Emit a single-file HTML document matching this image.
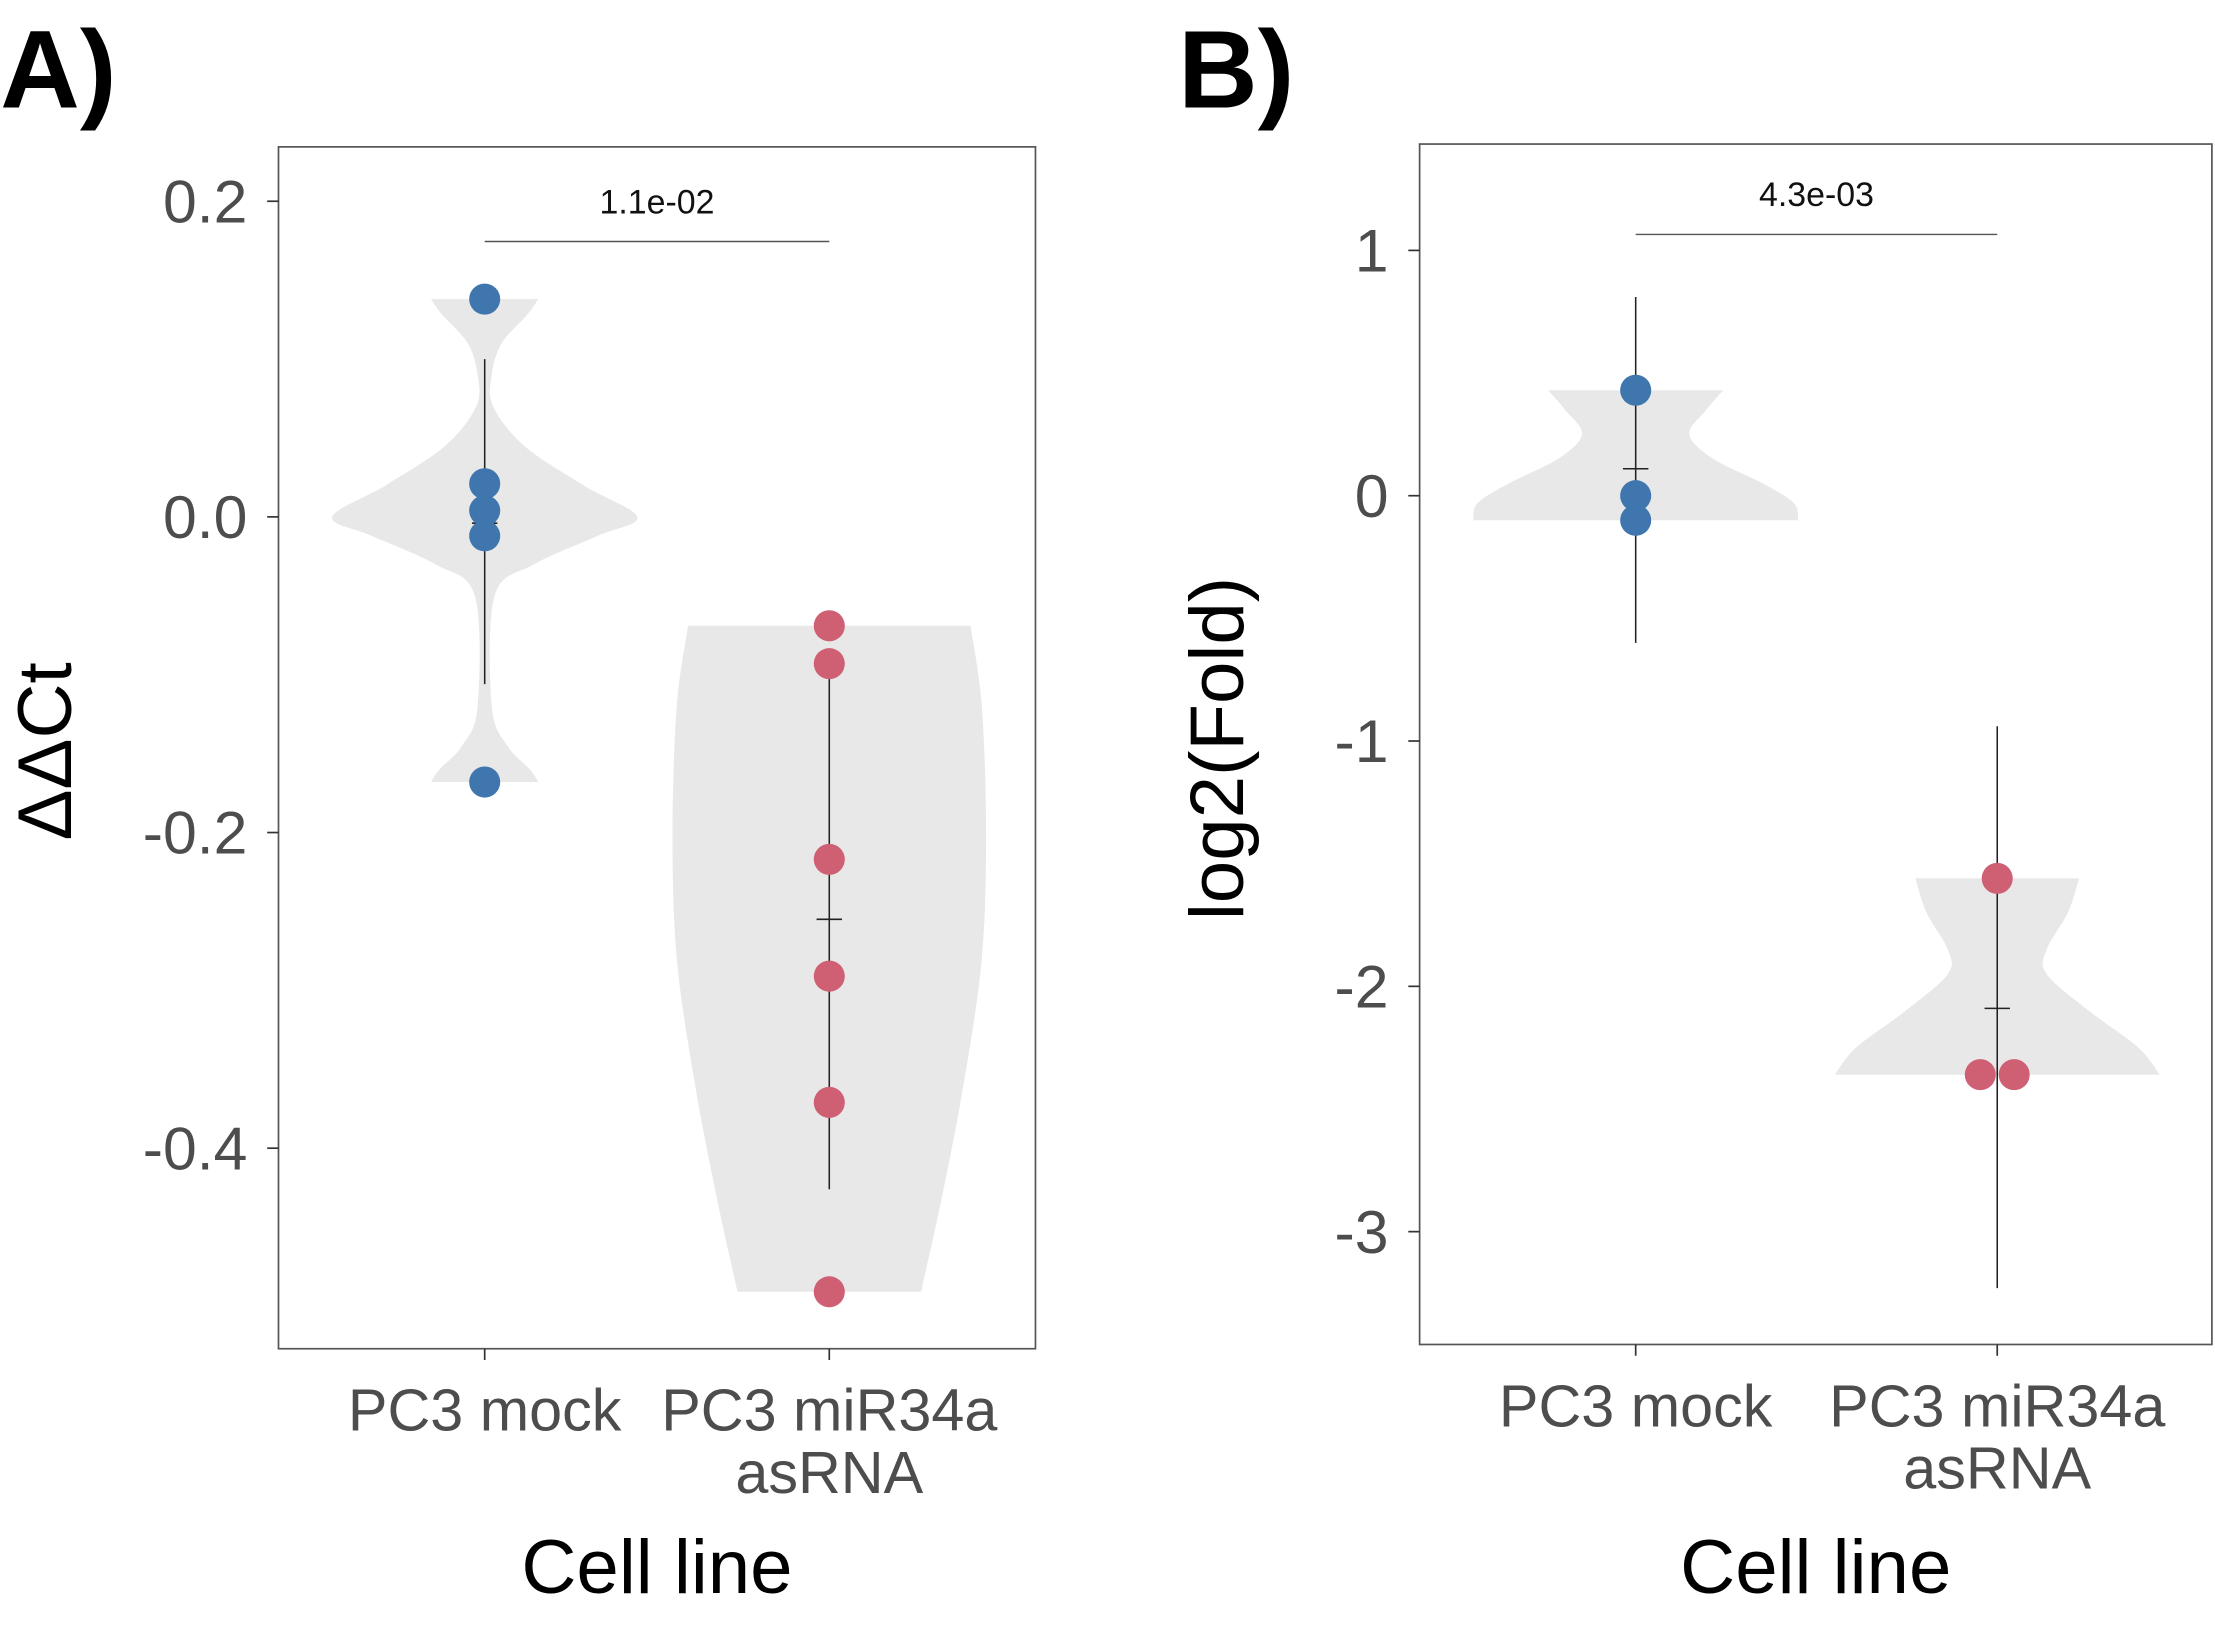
<!DOCTYPE html>
<html><head><meta charset="utf-8"><style>html,body{margin:0;padding:0;background:#fff}svg{display:block}text{font-family:"Liberation Sans",Arial,sans-serif}</style></head>
<body>
<svg id="s" width="2215" height="1634" viewBox="0 0 1568 1157" xmlns="http://www.w3.org/2000/svg">
<text x="0" y="76" font-size="78" font-weight="bold">A)</text>
<text x="834" y="76" font-size="78" font-weight="bold">B)</text>
</svg>
<script>
const NS="http://www.w3.org/2000/svg";
const svg=document.getElementById('s');
// Panel A data
const catsA=["PC3 mock","PC3 miR34a\nasRNA"];
const ticksA=[0.2,0.0,-0.2,-0.4];
const tickLabelsA=["0.2","0.0","-0.2","-0.4"];
const mockA=[0.138,0.021,0.004,-0.012,-0.168];
const asA=[-0.069,-0.093,-0.217,-0.291,-0.371,-0.491];
const meanA=[-0.004,-0.255];
const errHiA=[0.1,-0.095];
const errLoA=[-0.106,-0.426];
const violinMockA=[[0.138,38],[0.128,30],[0.11,12],[0.09,5],[0.07,6],[0.045,28],[0.02,70],[0.0,108],[-0.012,80],[-0.03,35],[-0.05,7],[-0.12,5],[-0.145,16],[-0.16,32],[-0.168,38]];
const violinAsA=[[-0.069,100],[-0.12,108],[-0.2,111],[-0.28,108],[-0.36,95],[-0.43,80],[-0.491,65]];
const pA="1.1e-02";
// Panel B data
const catsB=["PC3 mock","PC3 miR34a\nasRNA"];
const ticksB=[1,0,-1,-2,-3];
const tickLabelsB=["1","0","-1","-2","-3"];
const mockB=[0.43,0.0,-0.1];
const asB=[-1.56,-2.36,-2.36];
const asBjit=[0,-12,12];
const meanB=[0.11,-2.09];
const errHiB=[0.81,-0.94];
const errLoB=[-0.6,-3.23];
const violinMockB=[[0.43,62],[0.35,50],[0.25,38],[0.15,55],[0.05,90],[-0.03,112],[-0.1,115]];
const violinAsB=[[-1.56,58],[-1.7,50],[-1.85,35],[-1.95,35],[-2.1,65],[-2.25,100],[-2.36,115]];
const pB="4.3e-03";

function el(tag,attrs,parent){const e=document.createElementNS(NS,tag);for(const k in attrs)e.setAttribute(k,attrs[k]);(parent||svg).appendChild(e);return e;}

function smooth(pts){
  let d='M'+pts[0][0]+','+pts[0][1];
  for(let i=0;i<pts.length-1;i++){
    const p0=pts[Math.max(i-1,0)],p1=pts[i],p2=pts[i+1],p3=pts[Math.min(i+2,pts.length-1)];
    const c1=[p1[0]+(p2[0]-p0[0])/6,p1[1]+(p2[1]-p0[1])/6];
    const c2=[p2[0]-(p3[0]-p1[0])/6,p2[1]-(p3[1]-p1[1])/6];
    d+=` C${c1[0]},${c1[1]} ${c2[0]},${c2[1]} ${p2[0]},${p2[1]}`;
  }
  return d;
}

function panel(o){
  const y=v=>o.y0+(o.v0-v)*o.k;
  const g=el('g',{});
  
  
  const box=el('rect',{x:o.bx,y:o.by,width:o.bw,height:o.bh,fill:'none',stroke:'#555','stroke-width':1.2},g);
  
  o.ticks.forEach((t,i)=>{
    const l=el('line',{x1:o.bx-8,x2:o.bx,y1:y(t),y2:y(t),stroke:'#333','stroke-width':1.2},g);
    
    const tx=el('text',{x:o.bx-22,y:y(t)+15,'font-size':43,fill:'#4d4d4d','text-anchor':'end'},g);
    tx.textContent=o.tickLabels[i];
    
  });
  o.cats.forEach((c,i)=>{
    const x=o.cx[i];
    const l=el('line',{x1:x,x2:x,y1:o.by+o.bh,y2:o.by+o.bh+8,stroke:'#333','stroke-width':1.2},g);
    
    c.split('\n').forEach((ln,j)=>{
      const t=el('text',{x:x,y:o.by+o.bh+58+j*44,'font-size':42,fill:'#4d4d4d','text-anchor':'middle'},g);
      t.textContent=ln;
      
    });
  });
  [o.vm,o.va].forEach((prof,i)=>{
    const x=o.cx[i];
    const right=prof.map(p=>[x+p[1],y(p[0])]);
    const left=prof.slice().reverse().map(p=>[x-p[1],y(p[0])]);
    let d=smooth(right)+' L'+left[0][0]+','+left[0][1]+smooth(left).replace(/^M[^C]*/,' ')+'Z';
    const v=el('path',{d:d,fill:'#e8e8e8',stroke:'none'},g);
    
  });
  o.mean.forEach((m,i)=>{
    const x=o.cx[i];
    const e=el('line',{x1:x,x2:x,y1:y(o.hi[i]),y2:y(o.lo[i]),stroke:'#222','stroke-width':1.1},g);
    
    const mm=el('line',{x1:x-9,x2:x+9,y1:y(m),y2:y(m),stroke:'#222','stroke-width':1.1},g);
    
  });
  o.pm.forEach(v=>{
    const c=el('circle',{cx:o.cx[0],cy:y(v),r:11,fill:'#3f76ae'},g);
    
  });
  o.pa.forEach((v,i)=>{
    const c=el('circle',{cx:o.cx[1]+(o.jit?o.jit[i]:0),cy:y(v),r:11,fill:'#cf5f72'},g);
    
  });
  const sl=el('line',{x1:o.cx[0],x2:o.cx[1],y1:o.sy,y2:o.sy,stroke:'#555','stroke-width':1},g);
  
  const st=el('text',{x:(o.cx[0]+o.cx[1])/2,y:o.sy-20,'font-size':24,fill:'#111','text-anchor':'middle'},g);
  st.textContent=o.p;
  const xt=el('text',{x:o.bx+o.bw/2,y:1128,'font-size':54,fill:'#000','text-anchor':'middle'},g);
  xt.textContent='Cell line';
  const yt=el('text',{x:0,y:0,'font-size':54,fill:'#000','text-anchor':'middle',transform:`translate(${o.ytx},${o.yty}) rotate(-90)`},g);
  yt.textContent=o.ytitle;
}
panel({name:'panel-a',bx:197,by:104,bw:536,bh:851,v0:0,y0:366,k:1117.5,cx:[343,587],cats:catsA,ticks:ticksA,tickLabels:tickLabelsA,
  vm:violinMockA,va:violinAsA,mean:meanA,hi:errHiA,lo:errLoA,pm:mockA,pa:asA,sy:171,p:pA,ytitle:'ΔΔCt',ytx:50,yty:532});
panel({name:'panel-b',bx:1005,by:102,bw:561,bh:850,v0:0,y0:351,k:173.7,cx:[1158,1414],cats:catsB,ticks:ticksB,tickLabels:tickLabelsB,
  vm:violinMockB,va:violinAsB,mean:meanB,hi:errHiB,lo:errLoB,pm:mockB,pa:asB,jit:asBjit,sy:166,p:pB,ytitle:'log2(Fold)',ytx:880,yty:530});
</script>
</body></html>
